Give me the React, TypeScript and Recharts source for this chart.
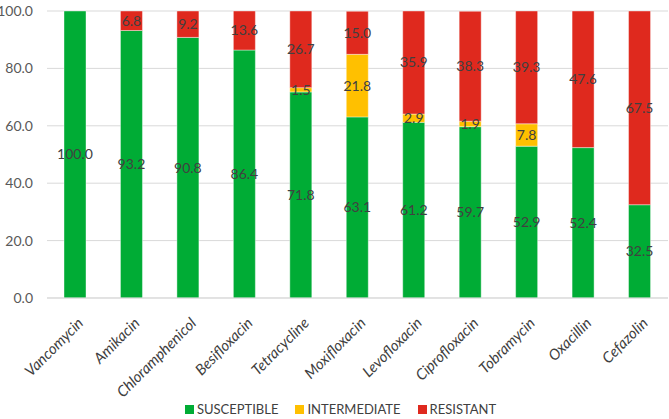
import React from 'react';
import { BarChart, Bar, XAxis, YAxis, CartesianGrid, LabelList, Legend } from 'recharts';

const antibiotics = [
  'Vancomycin', 'Amikacin', 'Chloramphenicol', 'Besifloxacin', 'Tetracycline', 'Moxifloxacin',
  'Levofloxacin', 'Ciprofloxacin', 'Tobramycin', 'Oxacillin', 'Cefazolin',
];
const susceptible = [100.0, 93.2, 90.8, 86.4, 71.8, 63.1, 61.2, 59.7, 52.9, 52.4, 32.5];
const intermediate = [0, 0, 0, 0, 1.5, 21.8, 2.9, 1.9, 7.8, 0, 0];
const resistant = [0, 6.8, 9.2, 13.6, 26.7, 15.0, 35.9, 38.3, 39.3, 47.6, 67.5];
const yTicks = [0, 20, 40, 60, 80, 100];

const data = antibiotics.map((name, i) => ({
  name,
  susceptible: susceptible[i],
  intermediate: intermediate[i],
  resistant: resistant[i],
}));

const series = [
  { key: 'susceptible', label: 'SUSCEPTIBLE', color: '#00AC35' },
  { key: 'intermediate', label: 'INTERMEDIATE', color: '#FFC000' },
  { key: 'resistant', label: 'RESISTANT', color: '#DF291E' },
];

const font = 'Lato, "Noto Sans", sans-serif';

const CategoryTick = (props: any) => {
  const { x, y, payload } = props;
  const tx = x + 9;
  const ty = y + 18;
  return (
    <text
      x={tx}
      y={ty}
      transform={`rotate(-45, ${tx}, ${ty})`}
      textAnchor="end"
      fontSize={15}
      fontStyle="italic"
      fill="#404040"
      fontFamily={font}
    >
      {payload.value}
    </text>
  );
};

const LegendContent = () => (
  <div style={{ display: 'flex', justifyContent: 'center', height: 20, fontFamily: font, fontSize: 13, color: '#404040', paddingLeft: 13 }}>
    {series.map((s) => (
      <div key={s.key} style={{ display: 'flex', alignItems: 'center', margin: '0 8.5px' }}>
        <span style={{ display: 'inline-block', width: 9, height: 9, background: s.color, marginRight: 3 }} />
        {s.label}
      </div>
    ))}
  </div>
);

const hideZero = (v: any) => (v ? Number(v).toFixed(1) : '');

export default function App() {
  return (
    <div style={{ position: 'absolute', left: 0, top: 0, background: '#fff' }}>
      <BarChart width={669} height={419} data={data} margin={{ top: 11, right: 1, left: 0, bottom: 0 }} barSize={22}>
        <CartesianGrid vertical={false} stroke="#d9d9d9" />
        <XAxis
          dataKey="name"
          interval={0}
          height={101}
          tick={<CategoryTick />}
          tickLine={false}
          axisLine={{ stroke: '#d9d9d9' }}
        />
        <YAxis
          width={47}
          domain={[0, 100]}
          ticks={yTicks}
          tickFormatter={(v) => v.toFixed(1)}
          tick={{ fontSize: 14, fill: '#595959', fontFamily: font }}
          tickLine={false}
          axisLine={false}
          tickMargin={8}
        />
        <Legend verticalAlign="bottom" content={<LegendContent />} />
        {series.map((s) => (
          <Bar
            key={s.key}
            dataKey={s.key}
            stackId="a"
            fill={s.color}
            stroke="#ffffff"
            strokeOpacity={0.5}
            strokeWidth={0.8}
            isAnimationActive={false}
          >
            <LabelList
              dataKey={s.key}
              position="center"
              formatter={hideZero}
              fill="#404040"
              fontSize={14}
              fontFamily={font}
            />
          </Bar>
        ))}
      </BarChart>
    </div>
  );
}
